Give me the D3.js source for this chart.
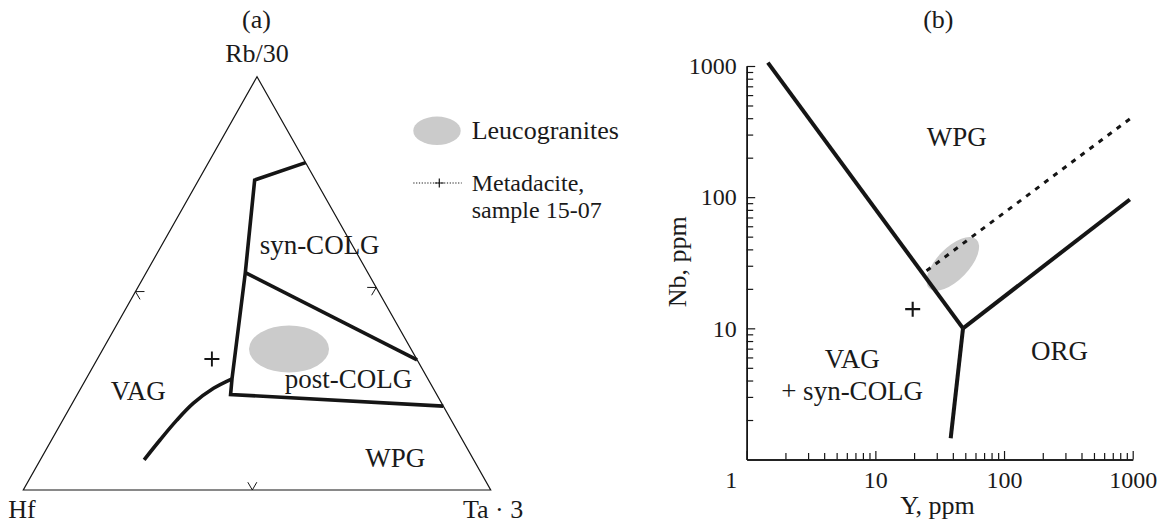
<!DOCTYPE html>
<html>
<head>
<meta charset="utf-8">
<script src="https://cdn.jsdelivr.net/npm/d3@7"></script>
<style>
  html, body { margin: 0; padding: 0; background: #ffffff; }
  svg { display: block; }
  text { font-family: "Liberation Serif", "Times New Roman", serif; fill: #1a1a1a; }
</style>
</head>
<body>
<svg id="fig" width="1168" height="524"></svg>
<script>
// ---------- (a) Hf – Rb/30 – Ta·3 ternary; compositions are [Rb/30, Hf, Ta·3] fractions ----------
const ternaryApices = ["Rb/30", "Hf", "Ta · 3"];
const boundaryMain = [
  [0.792, 0.000, 0.208], [0.750, 0.130, 0.120], [0.526, 0.262, 0.212],
  [0.269, 0.419, 0.312], [0.231, 0.441, 0.328], [0.203, 0.000, 0.797]
];
const boundaryPost = [[0.526, 0.262, 0.212], [0.315, 0.000, 0.685]];
const boundaryVag = [
  [0.269, 0.419, 0.312], [0.246, 0.470, 0.284], [0.210, 0.531, 0.259],
  [0.169, 0.587, 0.244], [0.121, 0.647, 0.232], [0.073, 0.705, 0.222]
];
const leucograniteTernary = [0.341, 0.261, 0.398];
const metadaciteTernary = [0.317, 0.438, 0.245];
const ternaryFieldNames = ["syn-COLG", "VAG", "post-COLG", "WPG"];
const ternaryFieldSpots = [
  [0.570, 0.081, 0.349], [0.218, 0.645, 0.137], [0.246, 0.181, 0.573], [0.056, 0.176, 0.768]
];

// ---------- (b) Nb vs Y discrimination diagram (ppm) ----------
const yMajorTicks = [1, 10, 100, 1000];
const nbMajorTicks = [10, 100, 1000];
const minorTicks = [2, 3, 4, 5, 6, 7, 8, 9, 20, 30, 40, 50, 60, 70, 80, 90, 200, 300, 400, 500, 600, 700, 800, 900];
const boundaryWpgVag = [[1.46, 1060], [48, 10]];
const boundaryWpgOrg = [[48, 10], [950, 96]];
const boundaryVagOrg = [[48, 10], [38.5, 1.45]];
const boundaryDashed = [[25, 27.5], [1000, 410]];
const leucograniteYNb = [40, 31];
const metadaciteYNb = [19.5, 14];
const nbFieldNames = ["WPG", "ORG", "VAG", "+ syn-COLG"];
const nbFieldSpots = [[43, 245], [270, 5.7], [6.6, 5.0], [6.6, 2.84]];

// legend entries
const legendLabels = ["Leucogranites", ["Metadacite,", "sample 15-07"]];

const svg = d3.select("#fig");
const INK = "#151515";
const GREY = "#cbcbcb";

// ================= (a) ternary =================
const tx = d3.scaleLinear().domain([0, 1]).range([23.3, 490.7]);
const ty = d3.scaleLinear().domain([0, 1]).range([490, 76.7]);
// composition [rb, hf, ta] -> pixel position
const tern = d => {
  const s = d[0] + d[1] + d[2];
  const a = d[0] / s, c = d[2] / s;
  return [tx(c + a / 2), ty(a)];
};
const gA = svg.append("g");

const apexPts = [[1, 0, 0], [0, 1, 0], [0, 0, 1]].map(tern);
gA.append("path")
  .attr("d", d3.line()(apexPts) + "Z")
  .attr("fill", "none").attr("stroke", INK).attr("stroke-width", 1.2)
  .attr("stroke-linejoin", "miter");

// small arrow-head marks on each side, apex on the edge, pointing outward
const edgeMarks = [[[1,0,0],[0,1,0],[0,0,1], 0.52], [[1,0,0],[0,0,1],[0,1,0], 0.51], [[0,1,0],[0,0,1],[1,0,0], 0.49]];
edgeMarks.forEach(([p, q, r, t]) => {
  const P = tern(p), Q = tern(q), R = tern(r);
  const M = [P[0] + (Q[0] - P[0]) * t, P[1] + (Q[1] - P[1]) * t];
  let nx = -(Q[1] - P[1]), ny = Q[0] - P[0];
  const len = Math.hypot(nx, ny); nx /= len; ny /= len;
  if ((R[0] - M[0]) * nx + (R[1] - M[1]) * ny < 0) { nx = -nx; ny = -ny; }
  const L = 9, ang = Math.PI / 6;
  const rot = (x, y, a) => [x * Math.cos(a) - y * Math.sin(a), x * Math.sin(a) + y * Math.cos(a)];
  const a1 = rot(nx, ny, ang), a2 = rot(nx, ny, -ang);
  gA.append("path")
    .attr("d", d3.line()([[M[0] + a1[0] * L, M[1] + a1[1] * L], M, [M[0] + a2[0] * L, M[1] + a2[1] * L]]))
    .attr("fill", "none").attr("stroke", INK).attr("stroke-width", 1);
});

// leucogranite field
const lc = tern(leucograniteTernary);
gA.append("ellipse").attr("cx", lc[0]).attr("cy", lc[1]).attr("rx", 40).attr("ry", 23.5).attr("fill", GREY);

// field boundaries
const lin = d3.line();
[boundaryMain, boundaryPost].forEach(b => {
  gA.append("path").attr("d", lin(b.map(tern)))
    .attr("fill", "none").attr("stroke", INK).attr("stroke-width", 3.6)
    .attr("stroke-linejoin", "miter");
});
gA.append("path").attr("d", d3.line().curve(d3.curveCatmullRom)(boundaryVag.map(tern)))
  .attr("fill", "none").attr("stroke", INK).attr("stroke-width", 3.6);

// plus marker
function plus(g, p, half, w) {
  g.append("path")
    .attr("d", `M${p[0] - half},${p[1]}H${p[0] + half}M${p[0]},${p[1] - half}V${p[1] + half}`)
    .attr("stroke", INK).attr("stroke-width", w).attr("fill", "none");
}
plus(gA, tern(metadaciteTernary), 7.5, 1.9);

// field names
ternaryFieldNames.forEach((n, i) => {
  const p = tern(ternaryFieldSpots[i]);
  gA.append("text").attr("x", p[0]).attr("y", p[1]).attr("text-anchor", "middle")
    .attr("font-size", 27).text(n);
});

// apex names and panel letter
gA.append("text").attr("x", apexPts[0][0]).attr("y", 61.7).attr("text-anchor", "middle").attr("font-size", 26).text(ternaryApices[0]);
gA.append("text").attr("x", 8.3).attr("y", 518).attr("font-size", 26).text(ternaryApices[1]);
gA.append("text").attr("x", 463).attr("y", 518).attr("font-size", 26).text(ternaryApices[2]);
gA.append("text").attr("x", 256.5).attr("y", 28).attr("text-anchor", "middle").attr("font-size", 26).text("(a)");

// legend
const gL = svg.append("g");
gL.append("ellipse").attr("cx", 437).attr("cy", 130.8).attr("rx", 23.7).attr("ry", 14.2).attr("fill", GREY);
gL.append("text").attr("x", 471.7).attr("y", 139.3).attr("font-size", 26).text(legendLabels[0]);
gL.append("line").attr("x1", 413.3).attr("x2", 461.7).attr("y1", 183).attr("y2", 183)
  .attr("stroke", INK).attr("stroke-width", 1.1).attr("stroke-dasharray", "1.2,1.6");
plus(gL, [439.3, 183], 4.5, 1.2);
legendLabels[1].forEach((s, i) => {
  gL.append("text").attr("x", 471.7).attr("y", 190.5 + i * 27).attr("font-size", 24).text(s);
});

// ================= (b) Nb – Y =================
const x = d3.scaleLog().domain([1, 1000]).range([746.7, 1132.7]);
const y = d3.scaleLog().domain([1, 1000]).range([459.5, 66]);
const gB = svg.append("g");

function styleAxis(g) {
  g.select(".domain").attr("stroke", INK).attr("stroke-width", 1.5);
  g.selectAll(".tick line").attr("stroke", INK).attr("stroke-width", 1.2);
  g.selectAll("text").attr("font-family", "'Liberation Serif','Times New Roman',serif")
    .attr("font-size", 24).attr("fill", "#1a1a1a");
}

// minor ticks
gB.append("g").attr("transform", `translate(0,${y(1)})`)
  .call(d3.axisBottom(x).tickValues(minorTicks).tickSizeInner(-6.5).tickSizeOuter(0).tickFormat(""))
  .call(styleAxis);
gB.append("g").attr("transform", `translate(${x(1)},0)`)
  .call(d3.axisLeft(y).tickValues(minorTicks).tickSizeInner(-6.5).tickSizeOuter(0).tickFormat(""))
  .call(styleAxis);
// major ticks with labels
const xAx = gB.append("g").attr("transform", `translate(0,${y(1)})`)
  .call(d3.axisBottom(x).tickValues(yMajorTicks).tickSizeInner(-8.5).tickSizeOuter(0).tickPadding(11.5).tickFormat(d3.format("d")))
  .call(styleAxis);
xAx.selectAll(".tick").filter(d => d === 1).select("text").attr("dx", -16);
gB.append("g").attr("transform", `translate(${x(1)},0)`)
  .call(d3.axisLeft(y).tickValues(nbMajorTicks).tickSizeInner(-8.5).tickSizeOuter(0).tickPadding(10).tickFormat(d3.format("d")))
  .call(styleAxis);

// leucogranite field
gB.append("ellipse")
  .attr("transform", `translate(${x(leucograniteYNb[0])},${y(leucograniteYNb[1])}) rotate(-46)`)
  .attr("rx", 34).attr("ry", 16).attr("fill", GREY);

// boundaries
const lineXY = d3.line().x(d => x(d[0])).y(d => y(d[1]));
[boundaryWpgVag, boundaryWpgOrg, boundaryVagOrg].forEach(b => {
  gB.append("path").attr("d", lineXY(b)).attr("fill", "none")
    .attr("stroke", INK).attr("stroke-width", 4).attr("stroke-linecap", "butt");
});
gB.append("path").attr("d", lineXY(boundaryDashed)).attr("fill", "none")
  .attr("stroke", INK).attr("stroke-width", 3).attr("stroke-dasharray", "5,6.3");

plus(gB, [x(metadaciteYNb[0]), y(metadaciteYNb[1])], 7.5, 2.1);

nbFieldNames.forEach((n, i) => {
  gB.append("text").attr("x", x(nbFieldSpots[i][0])).attr("y", y(nbFieldSpots[i][1]))
    .attr("text-anchor", "middle").attr("font-size", 27).text(n);
});

gB.append("text").attr("x", 937.5).attr("y", 513.5).attr("text-anchor", "middle").attr("font-size", 26).text("Y, ppm");
gB.append("text").attr("transform", "translate(686,261.7) rotate(-90)").attr("text-anchor", "middle").attr("font-size", 26).text("Nb, ppm");
gB.append("text").attr("x", 938.3).attr("y", 28).attr("text-anchor", "middle").attr("font-size", 26).text("(b)");
</script>
</body>
</html>
